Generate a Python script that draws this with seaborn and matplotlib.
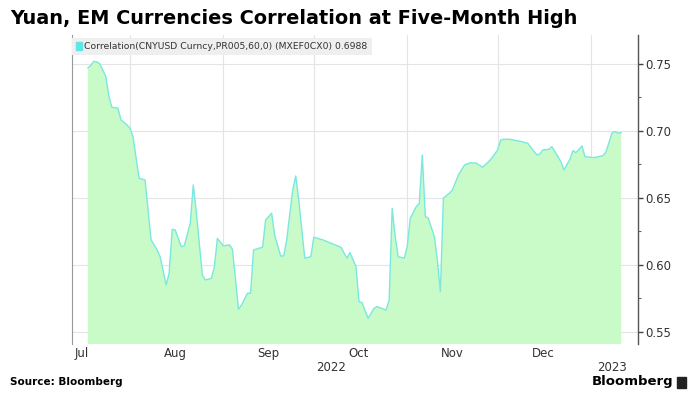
import pandas as pd
import seaborn as sns
import matplotlib.pyplot as plt
import matplotlib.dates as mdates
from matplotlib.patches import Patch, Rectangle
import matplotlib.transforms as mtransforms

sns.set_theme(style="white")
plt.rcParams['font.family'] = ['DejaVu Sans']

# 60-day correlation
dates = [
    "2022-07-18", "2022-07-19", "2022-07-20", "2022-07-21", "2022-07-22", "2022-07-24",
    "2022-07-25", "2022-07-26", "2022-07-28", "2022-07-29", "2022-07-31", "2022-08-01",
    "2022-08-02", "2022-08-04", "2022-08-06", "2022-08-08", "2022-08-10", "2022-08-11",
    "2022-08-13", "2022-08-14", "2022-08-15", "2022-08-16", "2022-08-18", "2022-08-19",
    "2022-08-21", "2022-08-22", "2022-08-23", "2022-08-25", "2022-08-26", "2022-08-28",
    "2022-08-29", "2022-08-30", "2022-09-01", "2022-09-03", "2022-09-04", "2022-09-06",
    "2022-09-07", "2022-09-09", "2022-09-10", "2022-09-11", "2022-09-14", "2022-09-15",
    "2022-09-17", "2022-09-18", "2022-09-20", "2022-09-21", "2022-09-22", "2022-09-24",
    "2022-09-25", "2022-09-26", "2022-09-28", "2022-09-30", "2022-10-01", "2022-10-04",
    "2022-10-10", "2022-10-12", "2022-10-13", "2022-10-15", "2022-10-16", "2022-10-17",
    "2022-10-19", "2022-10-21", "2022-10-22", "2022-10-25", "2022-10-26", "2022-10-27",
    "2022-10-28", "2022-10-29", "2022-10-31", "2022-11-01", "2022-11-02", "2022-11-04",
    "2022-11-05", "2022-11-06", "2022-11-07", "2022-11-08", "2022-11-10", "2022-11-11",
    "2022-11-12", "2022-11-13", "2022-11-15", "2022-11-16", "2022-11-18", "2022-11-20",
    "2022-11-22", "2022-11-24", "2022-11-26", "2022-11-28", "2022-11-29", "2022-12-01",
    "2022-12-02", "2022-12-03", "2022-12-05", "2022-12-09", "2022-12-11", "2022-12-14",
    "2022-12-15", "2022-12-16", "2022-12-18", "2022-12-19", "2022-12-22", "2022-12-23",
    "2022-12-25", "2022-12-26", "2022-12-27", "2022-12-29", "2022-12-30", "2023-01-02",
    "2023-01-05", "2023-01-06", "2023-01-08", "2023-01-09", "2023-01-10", "2023-01-11",
]
correlation = [
    0.747, 0.749, 0.752, 0.7515, 0.750, 0.7405,
    0.7256, 0.7177, 0.717, 0.7082, 0.7045, 0.702,
    0.6957, 0.6647, 0.6634, 0.6187, 0.6112, 0.6062,
    0.5851, 0.594, 0.6266, 0.6261, 0.6137, 0.6142,
    0.6313, 0.6597, 0.6398, 0.5925, 0.5888, 0.590,
    0.5987, 0.6199, 0.6142, 0.615, 0.6117, 0.567,
    0.5701, 0.5789, 0.5789, 0.6112, 0.6133, 0.6336,
    0.6386, 0.6224, 0.6067, 0.6067, 0.6187, 0.656,
    0.6664, 0.6485, 0.605, 0.6062, 0.6207, 0.6187,
    0.6132, 0.605, 0.6092, 0.5987, 0.5726, 0.5719,
    0.5602, 0.5677, 0.5689, 0.5664, 0.5739, 0.6423,
    0.6212, 0.6062, 0.605, 0.6137, 0.6349, 0.6435,
    0.646, 0.6821, 0.6361, 0.6349, 0.6211, 0.6037,
    0.580, 0.650, 0.6535, 0.656, 0.6672, 0.6746,
    0.6763, 0.6759, 0.6729, 0.6771, 0.6796, 0.6858,
    0.6933, 0.6938, 0.6938, 0.692, 0.6908, 0.6821,
    0.6828, 0.6858, 0.6863, 0.6883, 0.6771, 0.6709,
    0.6789, 0.6853, 0.6838, 0.6888, 0.6808, 0.6801,
    0.6816, 0.6846, 0.6987, 0.6995, 0.6983, 0.6988,
]
legend_label = "Correlation(CNYUSD Curncy,PR005,60,0) (MXEF0CX0) 0.6988"
y_ticks = [0.55, 0.60, 0.65, 0.70, 0.75]
y_minor_ticks = [0.575, 0.625, 0.675, 0.725]

df = pd.DataFrame({"date": pd.to_datetime(dates), "corr": correlation})

fill_color = "#c8fbc8"
line_color = "#7ae8e0"
grid_color = "#e4e4e4"
text_color = "#333333"

fig = plt.figure(figsize=(6.93, 3.93), dpi=100)
ax = fig.add_axes([72 / 693, 1 - 344 / 393, (638 - 72) / 693, (344 - 35) / 393])

ax.fill_between(df["date"], df["corr"], 0, color=fill_color, lw=0, zorder=1)
sns.lineplot(data=df, x="date", y="corr", color=line_color, lw=1.0, ax=ax, zorder=2)

ax.set_xlim(pd.Timestamp("2022-07-12 18:00"), pd.Timestamp("2023-01-16 14:00"))
ax.set_ylim(0.541, 0.7716)

# y axis on the right, with small minor ticks between the labels
ax.yaxis.set_ticks_position("right")
ax.set_yticks(y_ticks)
ax.set_yticklabels([f"{t:.2f}" for t in y_ticks])
ax.set_yticks(y_minor_ticks, minor=True)
ax.tick_params(axis="y", which="major", direction="out", length=3.5, width=1.0,
               color="#444444", labelsize=8.5, labelcolor=text_color, pad=1.5)
ax.tick_params(axis="y", which="minor", direction="out", length=2.2, width=0.8,
               color="#666666")

# x axis: gridlines at month starts, labels centred in month
ax.xaxis.set_major_locator(mdates.MonthLocator())
ax.xaxis.set_major_formatter(plt.NullFormatter())
ax.xaxis.set_minor_locator(mdates.MonthLocator(bymonthday=16))
ax.xaxis.set_minor_formatter(mdates.DateFormatter("%b"))
ax.tick_params(axis="x", which="both", length=0, labelsize=8.5, labelcolor=text_color, pad=2)
for lbl in ax.get_xticklabels(minor=True):
    if lbl.get_text() == "Jan":
        lbl.set_visible(False)

ax.grid(True, which="major", color=grid_color, lw=0.8)
ax.set_axisbelow(True)
ax.set_xlabel("")
ax.set_ylabel("")

for side in ["top", "bottom"]:
    ax.spines[side].set_visible(False)
ax.spines["left"].set_color("#999999")
ax.spines["left"].set_linewidth(0.8)
ax.spines["right"].set_color("#555555")
ax.spines["right"].set_linewidth(1.0)

# year labels under the months
x0, x1 = ax.get_xlim()
jan1 = mdates.date2num(pd.Timestamp("2023-01-01"))
trans = mtransforms.blended_transform_factory(ax.transData, ax.transAxes)
ax.text((x0 + jan1) / 2, -0.075, "2022", transform=trans, ha="center", va="center",
        fontsize=8.5, color=text_color)
ax.text((jan1 + x1) / 2 - 1, -0.075, "2023", transform=trans, ha="center", va="center",
        fontsize=8.5, color=text_color)

# legend band
leg = ax.legend(handles=[Patch(color="#5ee6e6")], labels=[legend_label],
                loc="upper left", bbox_to_anchor=(0, 0.99), frameon=True, fancybox=False,
                facecolor="#efefef", edgecolor="none", framealpha=1,
                handlelength=0.6, handleheight=0.8, handletextpad=0.25,
                borderpad=0.45, borderaxespad=0, fontsize=6.7)
for t in leg.get_texts():
    t.set_color(text_color)

fig.text(10 / 693, 1 - 18 / 393, "Yuan, EM Currencies Correlation at Five-Month High",
         ha="left", va="center", fontsize=13.9, fontweight="bold", color="black")
fig.text(10 / 693, 1 - 382 / 393, "Source: Bloomberg", ha="left", va="center",
         fontsize=7.5, fontweight="bold", color="black")
fig.text(673 / 693, 1 - 382 / 393, "Bloomberg", ha="right", va="center",
         fontsize=9.5, fontweight="semibold", color="black")
fig.patches.append(Rectangle((677 / 693, 1 - 388 / 393), 9 / 693, 11 / 393,
                             transform=fig.transFigure, color="#222222"))

fig.savefig("out.png", dpi=100)
